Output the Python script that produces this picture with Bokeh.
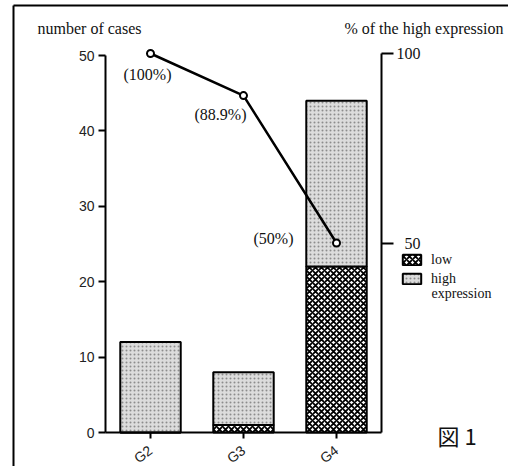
from bokeh.plotting import figure
from bokeh.models import (Range1d, LinearAxis, FixedTicker, ColumnDataSource, LabelSet, Label,
                          Legend, LegendItem)
from bokeh.core.properties import value
from bokeh.embed import file_html
from bokeh.resources import INLINE

# ---------------- data ----------------
categories = ["G2", "G3", "G4"]
low_counts = [0, 1, 22]
high_counts = [12, 7, 22]
high_pct = [100, 88.9, 50]
pct_labels = ["(100%)", "(88.9%)", "(50%)"]
left_ticks = [0, 10, 20, 30, 40, 50]
right_ticks = [50, 100]
legend_labels = ["low", "high", "expression"]

# ---------------- layout (canvas pixels) ----------------
W, H = 508, 466
X1_PX, DX = 150, 93.0        # pixel of first category, pixels per category
Y0_PX = 432                   # pixel of zero
PY_L, PY_R = 7.54, 3.79       # pixels per case / per percent

def fx(px):
    return 1 + (px - X1_PX) / DX

def fyl(py):
    return (Y0_PX - py) / PY_L

def fyr(py):
    return (Y0_PX - py) / PY_R

xs = list(range(1, len(categories) + 1))
totals = [l + h for l, h in zip(low_counts, high_counts)]

p = figure(width=W, height=H, output_backend="svg", toolbar_location=None,
           x_range=Range1d(fx(0), fx(W)), y_range=Range1d(fyl(H), fyl(0)),
           min_border=0, min_border_left=0, min_border_right=0,
           min_border_top=0, min_border_bottom=0)
p.extra_y_ranges = {"pct": Range1d(fyr(H), fyr(0))}
p.grid.visible = False
p.outline_line_color = None
p.background_fill_color = "white"
p.border_fill_color = "white"

# outer frame of the figure panel
p.segment(x0=[fx(13), fx(13)], y0=[fyl(5), fyl(5)], x1=[fx(13), fx(W + 10)],
          y1=[fyl(H + 10), fyl(5)], line_color="black", line_width=2)

src = ColumnDataSource(dict(x=xs, low=low_counts, total=totals, pct=high_pct,
                            plab=pct_labels, zero=[0] * len(xs)))

r_low = p.vbar(x="x", width=0.65, bottom="zero", top="low", source=src,
               fill_color="white", line_color="black", line_width=2,
               hatch_pattern="x", hatch_scale=6, hatch_weight=1.8, hatch_color="black")
r_high = p.vbar(x="x", width=0.65, bottom="low", top="total", source=src,
                fill_color="#dcdcdc", line_color="black", line_width=2,
                hatch_pattern=".", hatch_scale=4, hatch_weight=1, hatch_color="#8c8c8c")

p.line(x="x", y="pct", source=src, y_range_name="pct", line_color="black", line_width=2.5)
p.scatter(x="x", y="pct", source=src, y_range_name="pct", size=7, fill_color="white",
          line_color="black", line_width=2)

# percentage labels (pixel offsets are styling)
src.data["pdx"] = [-3, -23, -63]
src.data["pdy"] = [-21, -19, 5]
p.add_layout(LabelSet(x="x", y="pct", text="plab", source=src, y_range_name="pct",
                      x_offset="pdx", y_offset="pdy", text_align="center",
                      text_baseline="middle", text_font=value("Liberation Serif"),
                      text_font_size="16px", text_color="#111111"))

# ---------------- axes (fixed inside the full-canvas frame) ----------------
yl = p.yaxis[0]
yl.fixed_location = fx(105)
yl.bounds = (left_ticks[0], left_ticks[-1])
yl.ticker = FixedTicker(ticks=left_ticks)
yl.axis_line_width = 2
yl.major_tick_line_width = 2
yl.major_tick_out = 7
yl.major_tick_in = 0
yl.minor_tick_out = 0
yl.minor_tick_in = 0
yl.major_label_standoff = 4
yl.major_label_text_font = "Liberation Sans"
yl.major_label_text_font_size = "14px"
yl.major_label_text_color = "#222222"

yr = LinearAxis(y_range_name="pct", ticker=FixedTicker(ticks=right_ticks),
                major_label_overrides={50: "\u200750"})
yr.fixed_location = fx(381)
yr.bounds = (0, right_ticks[-1])
yr.axis_line_width = 2
yr.major_tick_line_width = 2
yr.major_tick_out = 12
yr.major_tick_in = 0
yr.minor_tick_out = 0
yr.minor_tick_in = 0
yr.major_label_standoff = 3
yr.major_label_text_font = "Liberation Serif"
yr.major_label_text_font_size = "16px"
yr.major_label_text_color = "#111111"
p.add_layout(yr, "right")

xa = p.xaxis[0]
xa.fixed_location = 0
xa.bounds = (fx(105), fx(381))
xa.ticker = FixedTicker(ticks=xs)
xa.major_label_overrides = {x: c for x, c in zip(xs, categories)}
xa.major_label_orientation = 0.65
xa.major_label_standoff = 10
xa.major_label_text_font = "Liberation Sans"
xa.major_label_text_font_size = "14px"
xa.major_label_text_color = "#222222"
xa.axis_line_width = 2
xa.major_tick_line_width = 2
xa.major_tick_out = 6
xa.major_tick_in = 0
xa.minor_tick_out = 0
xa.minor_tick_in = 0

# axis titles
p.add_layout(Label(x=fx(37), y=fyl(28), text="number of cases", text_align="left",
                   text_baseline="middle", text_font="Liberation Serif",
                   text_font_size="16px", text_color="#111111"))
p.add_layout(Label(x=fx(503), y=fyl(28), text="% of the high expression", text_align="right",
                   text_baseline="middle", text_font="Liberation Serif",
                   text_font_size="16px", text_color="#111111"))

# legend
legend = Legend(items=[LegendItem(label=legend_labels[0], renderers=[r_low]),
                       LegendItem(label=legend_labels[1], renderers=[r_high])],
                location=(400, H - 287), orientation="vertical", padding=0, margin=0, spacing=2,
                glyph_width=23, glyph_height=13, label_height=17, label_standoff=8,
                border_line_color=None, background_fill_alpha=0,
                label_text_font="Liberation Serif", label_text_font_size="14px",
                label_text_color="#111111")
p.add_layout(legend)
p.add_layout(Label(x=fx(431), y=fyl(293), text=legend_labels[2], text_align="left",
                   text_baseline="middle", text_font="Liberation Serif",
                   text_font_size="14px", text_color="#111111"))

# figure caption
p.add_layout(Label(x=fx(437), y=fyl(434), text="図 1", text_align="left",
                   text_baseline="middle", text_font="Noto Sans CJK JP",
                   text_font_size="22px", text_color="#111111"))

open("out.html", "w").write(file_html(p, INLINE))
